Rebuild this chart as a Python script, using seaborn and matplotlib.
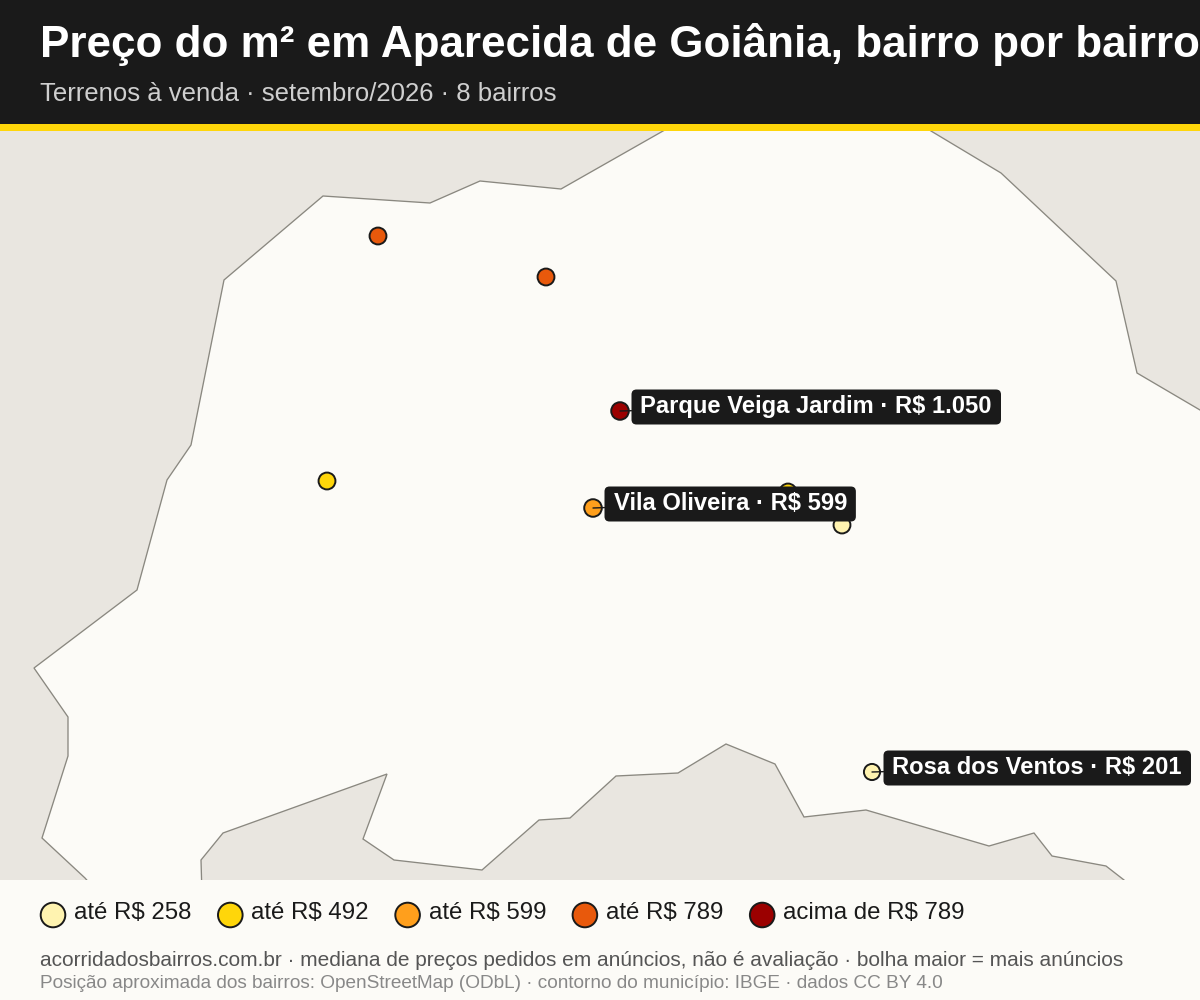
import numpy as np
import pandas as pd
import matplotlib
matplotlib.use("Agg")
import matplotlib.pyplot as plt
from matplotlib.patches import Rectangle, Polygon, BoxStyle
import seaborn as sns

sns.set_style("white")
plt.rcParams['font.family'] = ['Liberation Sans', 'DejaVu Sans']

# Municipality outline (map units)
outline_x = [663, 561, 480, 430, 323, 224, 191, 167, 137, 34, 68, 68, 42, 85, 100, 202, 201, 223, 387, 363,
             394, 482, 539, 570, 616, 678, 726, 775, 804, 866, 989, 1034, 1052, 1106, 1124, 1140, 1260, 1260,
             1200, 1137, 1116, 1001, 931, 900, 700]
outline_y = [131, 189, 181, 203, 196, 280, 445, 480, 590, 668, 717, 756, 838, 878, 895, 895, 860, 833, 774, 839,
             860, 870, 820, 818, 776, 773, 744, 764, 817, 810, 846, 833, 856, 866, 880, 895, 895, 445,
             410, 373, 281, 173, 131, 110, 110]

# Neighbourhoods
bairro_x = [378, 546, 620, 327, 788, 593, 842, 872]
bairro_y = [236, 277, 411, 481, 492, 508, 525, 772]
bairro_nome = ["", "", "Parque Veiga Jardim", "", "", "Vila Oliveira", "", "Rosa dos Ventos"]
bairro_preco = [700, 760, 1050, 400, 480, 599, 250, 201]
bairro_anuncios = [14, 14, 15, 14, 14, 15, 14, 13]

faixas = ["até R$ 258", "até R$ 492", "até R$ 599", "até R$ 789", "acima de R$ 789"]
faixa_limites = [258, 492, 599, 789]
faixa_cores = ["#FFF3B0", "#FFD60A", "#FF9F1C", "#E8590C", "#9B0000"]

titulo = "Preço do m² em Aparecida de Goiânia, bairro por bairro"
subtitulo = "Terrenos à venda · setembro/2026 · 8 bairros"
rodape1 = "acorridadosbairros.com.br · mediana de preços pedidos em anúncios, não é avaliação · bolha maior = mais anúncios"
rodape2 = "Posição aproximada dos bairros: OpenStreetMap (ODbL) · contorno do município: IBGE · dados CC BY 4.0"

DARK = "#1A1A1A"
PAPER = "#FCFBF7"
LAND = "#E9E6E0"


# label box: wide side padding, short top and bottom
def caixa(x0, y0, width, height, mutation_size):
    return BoxStyle.Round(pad=0, rounding_size=5)(x0 - 9, y0 - 7, width + 18, height + 12, 1)


df = pd.DataFrame({"x": bairro_x, "y": bairro_y, "nome": bairro_nome,
                   "preco": bairro_preco, "anuncios": bairro_anuncios})
df["faixa"] = [faixas[int(np.searchsorted(faixa_limites, p))] for p in df["preco"]]

fig = plt.figure(figsize=(12, 10), dpi=100, facecolor=PAPER)

# map
ax = fig.add_axes([0, 120 / 1000, 1, 749 / 1000])
ax.set_facecolor(LAND)
ax.add_patch(Polygon(np.column_stack([outline_x, outline_y]), closed=True,
                     facecolor=PAPER, edgecolor="#8A8880", lw=0.95))
sns.scatterplot(data=df, x="x", y="y", hue="faixa", hue_order=faixas, palette=faixa_cores,
                size="anuncios", sizes=(135, 160), edgecolor=DARK, linewidth=1.4,
                legend=False, zorder=3, ax=ax)
ax.set_xlim(0, 1200)
ax.set_ylim(880, 131)
ax.set_xlabel("")
ax.set_ylabel("")
ax.set_xticks([])
ax.set_yticks([])
sns.despine(ax=ax, left=True, bottom=True)

for _, row in df[df["nome"] != ""].iterrows():
    ax.annotate(f"{row['nome']} · R$ {row['preco']:,}".replace(",", "."),
                xy=(row["x"], row["y"]), xytext=(20.5, 5), textcoords="offset pixels",
                ha="left", va="center", fontsize=17.1, fontweight="bold", color="white", zorder=5,
                bbox=dict(boxstyle=caixa, fc=DARK, ec=DARK, lw=0),
                arrowprops=dict(arrowstyle="-", color=DARK, lw=1, shrinkA=0, shrinkB=0))

# header and footer, in picture pixels
over = fig.add_axes([0, 0, 1, 1], facecolor="none", zorder=10)
over.add_patch(Rectangle((0, 0), 1200, 124, fc=DARK, lw=0))
over.add_patch(Rectangle((0, 124), 1200, 7, fc="#FFD60A", lw=0))
over.add_patch(Rectangle((0, 880), 1200, 120, fc=PAPER, lw=0))
over.text(40, 44, titulo, fontsize=31.65, fontweight="bold", color="white", va="center", ha="left")
over.text(40, 94, subtitulo, fontsize=18.55, color="#CFCFCF", va="center", ha="left")

leg = pd.DataFrame({"x": [53 + i * 177.3 for i in range(len(faixas))], "y": [915] * len(faixas), "faixa": faixas})
sns.scatterplot(data=leg, x="x", y="y", hue="faixa", hue_order=faixas, palette=faixa_cores,
                s=314, edgecolor=DARK, linewidth=1.4, legend=False, zorder=3, ax=over)
over.set_xlim(0, 1200)
over.set_ylim(1000, 0)
over.axis("off")
for lx, nome in zip(leg["x"], faixas):
    over.text(lx + 21, 913, nome, fontsize=17.3, color=DARK, va="center", ha="left")

over.text(40, 961, rodape1, fontsize=15.04, color="#555555", va="center", ha="left")
over.text(40, 984, rodape2, fontsize=13.72, color="#888888", va="center", ha="left")

fig.savefig("out.png", dpi=100, facecolor=fig.get_facecolor())
